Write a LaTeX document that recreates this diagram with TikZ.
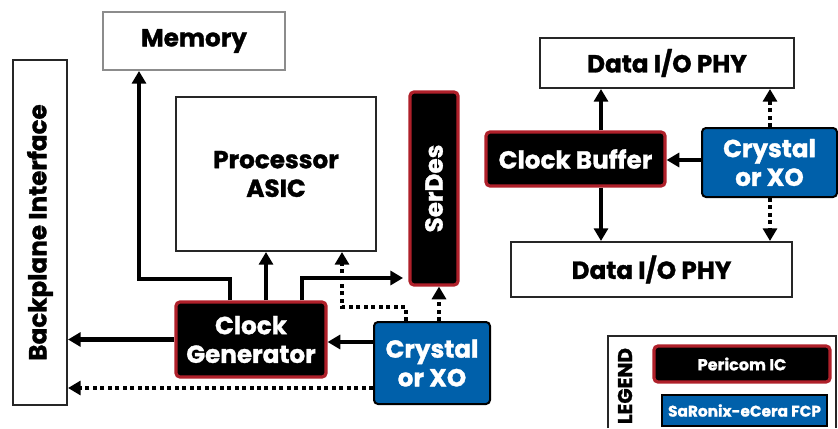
\documentclass[tikz,border=0pt]{standalone}
\usepackage{fontspec}
\setmainfont{Poppins}[BoldFeatures={FakeBold=1.2}]
\usepackage{graphicx}
\usepackage{tikz}
\usetikzlibrary{arrows.meta}
\definecolor{pericomred}{RGB}{175, 32, 42}
\definecolor{saronixblue}{RGB}{0, 96, 170}
\newcommand{\unitpx}{0.75pt}
\tikzset{every picture/.style={line width=0.75pt}}
\tikzset{
  boxtext/.style={font=\fontsize{18.5}{21.5}\selectfont\bfseries, align=center, inner sep=0pt},
  plainbox/.style={boxtext, draw=black!85, line width=1.5pt, fill=white},
  graybox/.style={plainbox, draw=black!45},
  pericombox/.style={boxtext, draw=pericomred, line width=2.4pt, fill=black, text=white, rounded corners=3pt},
  saronixbox/.style={boxtext, draw=black, line width=1.5pt, fill=saronixblue, text=white, rounded corners=3pt},
  solidarr/.style={line width=3.2pt, -{Triangle[width=10.5pt,length=9.5pt]}},
  dotarr/.style={solidarr, dash pattern=on 3pt off 2.6pt},
}

\begin{document}
\begin{tikzpicture}[x=0.75pt,y=0.75pt,yscale=-1,xscale=1]
\useasboundingbox (0,0) rectangle (838,428);

% Backplane
\node[plainbox, minimum width=54*\unitpx, minimum height=345*\unitpx] (bp) at (40,232.5) {\rotatebox{90}{Backplane Interface}};
% Memory
\node[graybox, minimum width=182*\unitpx, minimum height=58*\unitpx] (mem) at (194,41) {Memory};
% Processor
\node[plainbox, minimum width=200*\unitpx, minimum height=154*\unitpx] (asic) at (276,174) {Processor\\ASIC};
% SerDes
\node[pericombox, minimum width=48*\unitpx, minimum height=193*\unitpx] (serdes) at (434,188.5) {\rotatebox{90}{SerDes}};
% Clock Generator
\node[pericombox, minimum width=150*\unitpx, minimum height=75*\unitpx] (cg) at (251,339.5) {Clock\\Generator};
% Crystal, left
\node[saronixbox, minimum width=116*\unitpx, minimum height=82*\unitpx] (xoL) at (432,363) {Crystal\\or XO};

% Data I/O PHY, top and bottom
\node[plainbox, minimum width=254*\unitpx, minimum height=50*\unitpx] (phyT) at (667,63) {Data I/O PHY};
\node[plainbox, minimum width=281*\unitpx, minimum height=55*\unitpx] (phyB) at (651.5,269.5) {Data I/O PHY};
% Clock Buffer
\node[pericombox, minimum width=179*\unitpx, minimum height=54*\unitpx] (buf) at (575.5,159) {Clock Buffer};
% Crystal, right
\node[saronixbox, minimum width=135*\unitpx, minimum height=69*\unitpx] (xoR) at (769.5,162.5) {Crystal\\or XO};

% Clock Generator outputs
\draw[solidarr] (cg.north -| 230,0) |- (139,279) -- (mem.south -| 139,0);
\draw[solidarr] (cg.north -| 266,0) -- (asic.south -| 266,0);
\draw[solidarr, shorten >=4pt] (cg.north -| 302,0) |- (serdes.west |- 0,278);
\draw[solidarr] (cg.west) -- (bp.east |- cg.west);
% Crystal outputs, left
\draw[solidarr] (xoL.west |- 0,342) -- (cg.east |- 0,342);
\draw[dotarr] (xoL.west |- 0,388) -- (bp.east |- 0,388);
\draw[dotarr] (xoL.north -| 406,0) |- (342,307) -- (asic.south -| 342,0);
\draw[dotarr] (xoL.north -| 439,0) -- (serdes.south -| 439,0);

% Clock Buffer outputs
\draw[solidarr] (buf.north -| 601,0) -- (phyT.south -| 601,0);
\draw[solidarr] (buf.south -| 601,0) -- (phyB.north -| 601,0);
% Crystal outputs, right
\draw[solidarr] (xoR.west |- 0,160) -- (buf.east |- 0,160);
\draw[dotarr] (xoR.north -| 770,0) -- (phyT.south -| 770,0);
\draw[dotarr] (xoR.south -| 770,0) -- (phyB.north -| 770,0);

% Legend
\draw[draw=black!85, line width=1.5pt] (608,428) -- (608,336) -- (836,336) -- (836,428);
\node[font=\fontsize{15}{15}\selectfont\bfseries, rotate=90, inner sep=0pt] (lgtitle) at (625,386) {LEGEND};
\node[pericombox, font=\fontsize{12}{12}\selectfont\bfseries, minimum width=176*\unitpx, minimum height=36*\unitpx] (lgP) at (742,364) {Pericom IC};
\node[saronixbox, rounded corners=0pt, font=\fontsize{11.5}{12}\selectfont\bfseries, minimum width=165*\unitpx, minimum height=31*\unitpx] (lgS) at (744.5,410.5) {SaRonix-eCera FCP};

\end{tikzpicture}
\end{document}
